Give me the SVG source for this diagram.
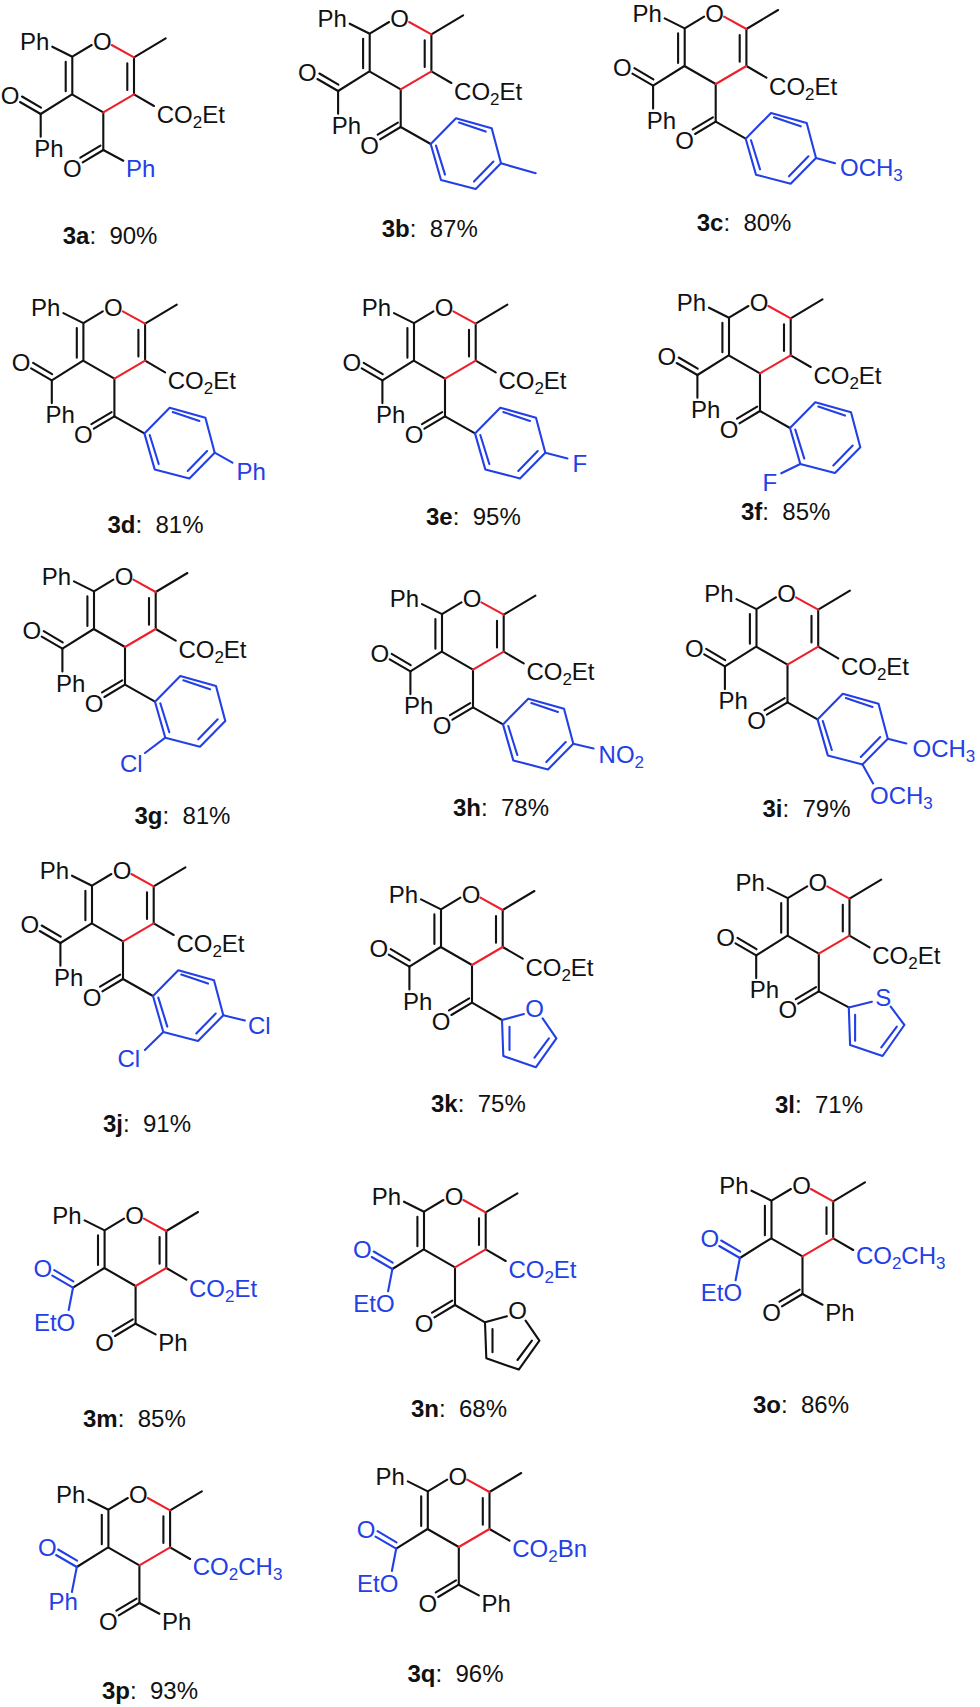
<svg xmlns="http://www.w3.org/2000/svg" width="980" height="1707" viewBox="0 0 980 1707">
<style>
text{font-family:"Liberation Sans",Arial,sans-serif;font-size:24px;fill:#111}
.b{fill:#2340e6}
.m{text-anchor:middle}
.lab .n{font-weight:bold}
.l{fill:none;stroke:#111;stroke-width:2.1;stroke-linecap:round;stroke-linejoin:round}
.lb{fill:none;stroke:#2340e6;stroke-width:2.1;stroke-linecap:round;stroke-linejoin:round}
.lr{fill:none;stroke:#ed1f2b;stroke-width:2.1;stroke-linecap:round}
</style>
<defs>
<g id="core">
<path class="l" d="M-51 -65.6L-31 -55.6L-11.6 -67.3M-31 -55.6V-18M-37.6 -50.6V-21M-31.3 -18L0 0M-31.3 -18L-62.6 1.7M0 0V37.7M30.7 -55V-18M24 -49V-22.3M30.7 -55L62.4 -74M30.7 -18L50.7 -6.3"/>
<path class="lr" d="M8.4 -67.3L30.7 -55M0 0L30.7 -18"/>
</g>
<g id="coL"><path d="M-83.3 -10.3L-62.6 1.7M-81.3 -15.8L-62.3 -4.6"/></g>
<g id="coR"><path class="l" d="M0 37.7L-20.6 50M-2.8 33.4L-23 45.4"/></g>
<g id="aryl"><path d="M30 54.7L55.3 29L91 39L100.3 74L75 99.7L40.3 90.7ZM58.3 33.3L85 42.3M92.7 72.3L73.3 92.3M44.3 85.3L35.3 56.3"/></g>
<g id="furan"><path d="M51.9 49L30 55L31.3 91L63.8 102.3L84.4 73.3L70.6 53.3M37.5 85V61.7M62.5 92.7L76.9 73.3"/></g>
</defs>

<g id="m3a"><g transform="translate(103.3 112.3)"><use href="#core"/><use href="#coL" class="l"/><use href="#coR"/>
<path class="l" d="M-62.6 1.7V24.4M0 37.7L20 48.4"/>
<text x="-83.3" y="-62.3">Ph</text><text class="m" x="-1" y="-62.3">O</text><text class="m" x="-93.3" y="-8">O</text><text x="-69" y="44.7">Ph</text><text class="m" x="-31" y="64.5">O</text><text class="b" x="22.7" y="64.5">Ph</text><text x="53.4" y="10.7">CO<tspan dy="5" font-size="17">2</tspan><tspan dy="-5">Et</tspan></text></g>
<text class="lab" x="62.7" y="244"><tspan class="n">3a</tspan>:&#160;&#160;90%</text></g>

<g id="m3b"><g transform="translate(400.7 89.3)"><use href="#core"/><use href="#coL" class="l"/><use href="#coR"/>
<path class="l" d="M-62.6 1.7V24.4M0 37.7L30 54.7"/><use href="#aryl" class="lb"/><path class="lb" d="M100.3 74L135 84"/>
<text x="-83.3" y="-62.3">Ph</text><text class="m" x="-1" y="-62.3">O</text><text class="m" x="-93.3" y="-8">O</text><text x="-69" y="44.7">Ph</text><text class="m" x="-31" y="64.5">O</text><text x="53.4" y="10.7">CO<tspan dy="5" font-size="17">2</tspan><tspan dy="-5">Et</tspan></text></g>
<text class="lab" x="381.7" y="236.7"><tspan class="n">3b</tspan>:&#160;&#160;87%</text></g>

<g id="m3c"><g transform="translate(715.7 84)"><use href="#core"/><use href="#coL" class="l"/><use href="#coR"/>
<path class="l" d="M-62.6 1.7V24.4M0 37.7L30 54.7"/><use href="#aryl" class="lb"/><path class="lb" d="M100.3 74L119.3 79.3"/>
<text x="-83.3" y="-62.3">Ph</text><text class="m" x="-1" y="-62.3">O</text><text class="m" x="-93.3" y="-8">O</text><text x="-69" y="44.7">Ph</text><text class="m" x="-31" y="64.5">O</text><text x="53.4" y="10.7">CO<tspan dy="5" font-size="17">2</tspan><tspan dy="-5">Et</tspan></text><text class="b" x="124.3" y="91.7">OCH<tspan dy="5" font-size="17">3</tspan></text></g>
<text class="lab" x="696.7" y="231"><tspan class="n">3c</tspan>:&#160;&#160;80%</text></g>

<g id="m3d"><g transform="translate(114.4 378.7)"><use href="#core"/><use href="#coL" class="l"/><use href="#coR"/>
<path class="l" d="M-62.6 1.7V24.4M0 37.7L30 54.7"/><use href="#aryl" class="lb"/><path class="lb" d="M100.3 74L118 84"/>
<text x="-83.3" y="-62.3">Ph</text><text class="m" x="-1" y="-62.3">O</text><text class="m" x="-93.3" y="-8">O</text><text x="-69" y="44.7">Ph</text><text class="m" x="-31" y="64.5">O</text><text x="53.4" y="10.7">CO<tspan dy="5" font-size="17">2</tspan><tspan dy="-5">Et</tspan></text><text class="b" x="122" y="101">Ph</text></g>
<text class="lab" x="107.5" y="533.3"><tspan class="n">3d</tspan>:&#160;&#160;81%</text></g>

<g id="m3e"><g transform="translate(445 378.7)"><use href="#core"/><use href="#coL" class="l"/><use href="#coR"/>
<path class="l" d="M-62.6 1.7V24.4M0 37.7L30 54.7"/><use href="#aryl" class="lb"/><path class="lb" d="M100.3 74L122.5 79.7"/>
<text x="-83.3" y="-62.3">Ph</text><text class="m" x="-1" y="-62.3">O</text><text class="m" x="-93.3" y="-8">O</text><text x="-69" y="44.7">Ph</text><text class="m" x="-31" y="64.5">O</text><text x="53.4" y="10.7">CO<tspan dy="5" font-size="17">2</tspan><tspan dy="-5">Et</tspan></text><text class="b" x="127.5" y="93">F</text></g>
<text class="lab" x="426" y="525"><tspan class="n">3e</tspan>:&#160;&#160;95%</text></g>

<g id="m3f"><g transform="translate(760 373.3)"><use href="#core"/><use href="#coL" class="l"/><use href="#coR"/>
<path class="l" d="M-62.6 1.7V24.4M0 37.7L30 54.7"/><use href="#aryl" class="lb"/><path class="lb" d="M40.3 90.7L21.3 100"/>
<text x="-83.3" y="-62.3">Ph</text><text class="m" x="-1" y="-62.3">O</text><text class="m" x="-93.3" y="-8">O</text><text x="-69" y="44.7">Ph</text><text class="m" x="-31" y="64.5">O</text><text x="53.4" y="10.7">CO<tspan dy="5" font-size="17">2</tspan><tspan dy="-5">Et</tspan></text><text class="b" x="2.5" y="117.3">F</text></g>
<text class="lab" x="741" y="520"><tspan class="n">3f</tspan>:&#160;&#160;85%</text></g>

<g id="m3g"><g transform="translate(125 647)"><use href="#core"/><use href="#coL" class="l"/><use href="#coR"/>
<path class="l" d="M-62.6 1.7V24.4M0 37.7L30 54.7"/><use href="#aryl" class="lb"/><path class="lb" d="M40.3 90.7L20 106"/>
<text x="-83.3" y="-62.3">Ph</text><text class="m" x="-1" y="-62.3">O</text><text class="m" x="-93.3" y="-8">O</text><text x="-69" y="44.7">Ph</text><text class="m" x="-31" y="64.5">O</text><text x="53.4" y="10.7">CO<tspan dy="5" font-size="17">2</tspan><tspan dy="-5">Et</tspan></text><text class="b" x="-5" y="124.7">Cl</text></g>
<text class="lab" x="134.4" y="824.3"><tspan class="n">3g</tspan>:&#160;&#160;81%</text></g>

<g id="m3h"><g transform="translate(473 669.7)"><use href="#core"/><use href="#coL" class="l"/><use href="#coR"/>
<path class="l" d="M-62.6 1.7V24.4M0 37.7L30 54.7"/><use href="#aryl" class="lb"/><path class="lb" d="M100.3 74L120.6 78.7"/>
<text x="-83.3" y="-62.3">Ph</text><text class="m" x="-1" y="-62.3">O</text><text class="m" x="-93.3" y="-8">O</text><text x="-69" y="44.7">Ph</text><text class="m" x="-31" y="64.5">O</text><text x="53.4" y="10.7">CO<tspan dy="5" font-size="17">2</tspan><tspan dy="-5">Et</tspan></text><text class="b" x="125.6" y="93.7">NO<tspan dy="5" font-size="17">2</tspan></text></g>
<text class="lab" x="453" y="816"><tspan class="n">3h</tspan>:&#160;&#160;78%</text></g>

<g id="m3i"><g transform="translate(787.5 664.7)"><use href="#core"/><use href="#coL" class="l"/><use href="#coR"/>
<path class="l" d="M-62.6 1.7V24.4M0 37.7L30 54.7"/><use href="#aryl" class="lb"/><path class="lb" d="M100.3 74L118.8 78.7M75 99.7L85.6 118.7"/>
<text x="-83.3" y="-62.3">Ph</text><text class="m" x="-1" y="-62.3">O</text><text class="m" x="-93.3" y="-8">O</text><text x="-69" y="44.7">Ph</text><text class="m" x="-31" y="64.5">O</text><text x="53.4" y="10.7">CO<tspan dy="5" font-size="17">2</tspan><tspan dy="-5">Et</tspan></text><text class="b" x="125" y="92">OCH<tspan dy="5" font-size="17">3</tspan></text><text class="b" x="82.5" y="139.3">OCH<tspan dy="5" font-size="17">3</tspan></text></g>
<text class="lab" x="762.5" y="816.7"><tspan class="n">3i</tspan>:&#160;&#160;79%</text></g>

<g id="m3j"><g transform="translate(123 941.3)"><use href="#core"/><use href="#coL" class="l"/><use href="#coR"/>
<path class="l" d="M-62.6 1.7V24.4M0 37.7L30 54.7"/><use href="#aryl" class="lb"/><path class="lb" d="M100.3 74L121.9 79.3M40.3 90.7L21.9 108.7"/>
<text x="-83.3" y="-62.3">Ph</text><text class="m" x="-1" y="-62.3">O</text><text class="m" x="-93.3" y="-8">O</text><text x="-69" y="44.7">Ph</text><text class="m" x="-31" y="64.5">O</text><text x="53.4" y="10.7">CO<tspan dy="5" font-size="17">2</tspan><tspan dy="-5">Et</tspan></text><text class="b" x="125" y="92.7">Cl</text><text class="b" x="-5.6" y="125.3">Cl</text></g>
<text class="lab" x="103" y="1132"><tspan class="n">3j</tspan>:&#160;&#160;91%</text></g>

<g id="m3k"><g transform="translate(472 965)"><use href="#core"/><use href="#coL" class="l"/><use href="#coR"/>
<path class="l" d="M-62.6 1.7V24.4M0 37.7L30 55"/><use href="#furan" class="lb"/>
<text x="-83.3" y="-62.3">Ph</text><text class="m" x="-1" y="-62.3">O</text><text class="m" x="-93.3" y="-8">O</text><text x="-69" y="44.7">Ph</text><text class="m" x="-31" y="64.5">O</text><text x="53.4" y="10.7">CO<tspan dy="5" font-size="17">2</tspan><tspan dy="-5">Et</tspan></text><text class="b m" x="62.5" y="51.7">O</text></g>
<text class="lab" x="431" y="1111.7"><tspan class="n">3k</tspan>:&#160;&#160;75%</text></g>

<g id="m3l"><g transform="translate(818.8 953.7)"><use href="#core"/><use href="#coL" class="l"/><use href="#coR"/>
<path class="l" d="M-62.6 1.7V24.4M0 37.7L30 53.7"/><path class="lb" d="M53.1 48L30 53.7L31.3 91.3L63.8 102.3L85.6 71.3L71.9 53M36.3 87V61M62.5 93.7L78 73"/>
<text x="-83.3" y="-62.3">Ph</text><text class="m" x="-1" y="-62.3">O</text><text class="m" x="-93.3" y="-8">O</text><text x="-69" y="44.7">Ph</text><text class="m" x="-31" y="64.5">O</text><text x="53.4" y="10.7">CO<tspan dy="5" font-size="17">2</tspan><tspan dy="-5">Et</tspan></text><text class="b m" x="64.4" y="52">S</text></g>
<text class="lab" x="775" y="1113.3"><tspan class="n">3l</tspan>:&#160;&#160;71%</text></g>

<g id="m3m"><g transform="translate(135.6 1286)"><use href="#core"/><use href="#coL" class="lb"/><use href="#coR"/>
<path class="lb" d="M-62.6 1.7L-66.9 24"/><path class="l" d="M0 37.7L20 48.4"/>
<text x="-83.3" y="-62.3">Ph</text><text class="m" x="-1" y="-62.3">O</text><text class="b m" x="-92.7" y="-9.3">O</text><text class="b" x="-101.7" y="44.7">EtO</text><text class="m" x="-31" y="64.5">O</text><text x="22.7" y="64.5">Ph</text><text class="b" x="53.4" y="10.7">CO<tspan dy="5" font-size="17">2</tspan><tspan dy="-5">Et</tspan></text></g>
<text class="lab" x="83" y="1427"><tspan class="n">3m</tspan>:&#160;&#160;85%</text></g>

<g id="m3n"><g transform="translate(455 1267.3)"><use href="#core"/><use href="#coL" class="lb"/><use href="#coR"/>
<path class="lb" d="M-62.6 1.7L-66.9 24"/><path class="l" d="M0 37.7L30 55"/><use href="#furan" class="l"/>
<text x="-83.3" y="-62.3">Ph</text><text class="m" x="-1" y="-62.3">O</text><text class="b m" x="-92.7" y="-9.3">O</text><text class="b" x="-101.7" y="44.7">EtO</text><text class="m" x="-31" y="64.5">O</text><text class="b" x="53.4" y="10.7">CO<tspan dy="5" font-size="17">2</tspan><tspan dy="-5">Et</tspan></text><text class="m" x="62.5" y="51.7">O</text></g>
<text class="lab" x="411" y="1416.7"><tspan class="n">3n</tspan>:&#160;&#160;68%</text></g>

<g id="m3o"><g transform="translate(802.5 1256.3)"><use href="#core"/><use href="#coL" class="lb"/><use href="#coR"/>
<path class="lb" d="M-62.6 1.7L-66.9 24"/><path class="l" d="M0 37.7L20 48.4"/>
<text x="-83.3" y="-62.3">Ph</text><text class="m" x="-1" y="-62.3">O</text><text class="b m" x="-92.7" y="-9.3">O</text><text class="b" x="-101.7" y="44.7">EtO</text><text class="m" x="-31" y="64.5">O</text><text x="22.7" y="64.5">Ph</text><text class="b" x="53.4" y="8">CO<tspan dy="5" font-size="17">2</tspan><tspan dy="-5">CH</tspan><tspan dy="5" font-size="17">3</tspan></text></g>
<text class="lab" x="753" y="1413"><tspan class="n">3o</tspan>:&#160;&#160;86%</text></g>

<g id="m3p"><g transform="translate(139.4 1565.3)"><use href="#core"/><use href="#coL" class="lb"/><use href="#coR"/>
<path class="lb" d="M-62.6 1.7L-67.5 26.7"/><path class="l" d="M0 37.7L20 48.4"/>
<text x="-83.3" y="-62.3">Ph</text><text class="m" x="-1" y="-62.3">O</text><text class="b m" x="-92" y="-9.3">O</text><text class="b" x="-91" y="45">Ph</text><text class="m" x="-31" y="64.5">O</text><text x="22.7" y="64.5">Ph</text><text class="b" x="53.4" y="10">CO<tspan dy="5" font-size="17">2</tspan><tspan dy="-5">CH</tspan><tspan dy="5" font-size="17">3</tspan></text></g>
<text class="lab" x="102" y="1698.7"><tspan class="n">3p</tspan>:&#160;&#160;93%</text></g>

<g id="m3q"><g transform="translate(458.8 1547)"><use href="#core"/><use href="#coL" class="lb"/><use href="#coR"/>
<path class="lb" d="M-62.6 1.7L-66.9 24"/><path class="l" d="M0 37.7L20 48.4"/>
<text x="-83.3" y="-62.3">Ph</text><text class="m" x="-1" y="-62.3">O</text><text class="b m" x="-92.7" y="-9.3">O</text><text class="b" x="-101.7" y="44.7">EtO</text><text class="m" x="-31" y="64.5">O</text><text x="22.7" y="64.5">Ph</text><text class="b" x="53.4" y="10">CO<tspan dy="5" font-size="17">2</tspan><tspan dy="-5">Bn</tspan></text></g>
<text class="lab" x="407.5" y="1682"><tspan class="n">3q</tspan>:&#160;&#160;96%</text></g>
</svg>
